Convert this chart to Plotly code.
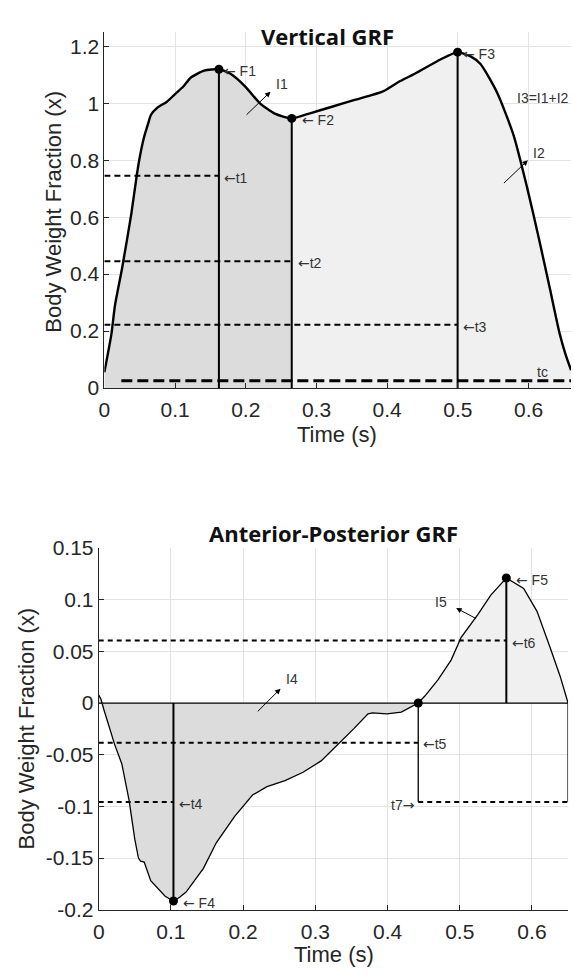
import plotly.graph_objects as go

# ---------------- Vertical GRF data ----------------
vt_time = [0.000, 0.010, 0.015, 0.025, 0.038, 0.046, 0.050, 0.056, 0.062, 0.066,
           0.075, 0.088, 0.099, 0.112, 0.122, 0.141, 0.162, 0.179, 0.200, 0.220,
           0.241, 0.265, 0.292, 0.323, 0.354, 0.393, 0.416, 0.439, 0.476, 0.4996,
           0.518, 0.532, 0.556, 0.579, 0.598, 0.615, 0.630, 0.644, 0.652, 0.660]
vt_force = [0.055, 0.19, 0.29, 0.42, 0.61, 0.75, 0.81, 0.88, 0.93, 0.96,
            0.985, 1.005, 1.03, 1.06, 1.09, 1.115, 1.12, 1.103, 1.057, 1.0,
            0.964, 0.947, 0.966, 0.989, 1.012, 1.041, 1.075, 1.104, 1.155, 1.18,
            1.165, 1.138, 1.035, 0.886, 0.703, 0.52, 0.35, 0.19, 0.12, 0.063]

vt_peak_names = ["F1", "F2", "F3"]
vt_peak_time = [0.162, 0.265, 0.4996]
vt_peak_force = [1.12, 0.947, 1.18]

vt_dash_names = ["t1", "t2", "t3"]
vt_dash_level = [0.746, 0.445, 0.222]
vt_dash_end = [0.162, 0.265, 0.4996]
vt_tc_level = 0.025
vt_tc_start = 0.024
vt_tc_end = 0.66

# ---------------- Anterior-Posterior GRF data ----------------
ap_time = [0.000, 0.003, 0.007, 0.015, 0.022, 0.032, 0.042, 0.050, 0.055, 0.058,
           0.063, 0.072, 0.082, 0.092, 0.1035, 0.112, 0.121, 0.133, 0.145, 0.163,
           0.188, 0.213, 0.233, 0.258, 0.283, 0.308, 0.333, 0.353, 0.373, 0.379,
           0.399, 0.419, 0.4425, 0.452, 0.470, 0.488, 0.502, 0.525, 0.543, 0.5645,
           0.5885, 0.607, 0.625, 0.639, 0.650]
ap_force = [0.0076, 0.004, -0.006, -0.025, -0.040, -0.059, -0.094, -0.132, -0.150, -0.153,
            -0.154, -0.172, -0.180, -0.187, -0.1916, -0.188, -0.183, -0.172, -0.160, -0.135,
            -0.110, -0.089, -0.081, -0.075, -0.067, -0.056, -0.039, -0.025, -0.0105, -0.0095,
            -0.0104, -0.0088, 0.0, 0.007, 0.0227, 0.0416, 0.0636, 0.0856, 0.1045, 0.121,
            0.1109, 0.0888, 0.054, 0.026, 0.0]

ap_points_time = [0.1035, 0.4425, 0.5645]
ap_points_force = [-0.1916, 0.0, 0.121]

ap_t4_level = -0.0958
ap_t5_level = -0.0384
ap_t6_level = 0.0605
ap_t7_level = -0.0958

# ---------------- axis ticks ----------------
vt_xticks = [0, 0.1, 0.2, 0.3, 0.4, 0.5, 0.6]
vt_xticktext = ["0", "0.1", "0.2", "0.3", "0.4", "0.5", "0.6"]
vt_yticks = [0, 0.2, 0.4, 0.6, 0.8, 1.0, 1.2]
vt_yticktext = ["0", "0.2", "0.4", "0.6", "0.8", "1", "1.2"]
ap_xticks = [0, 0.1, 0.2, 0.3, 0.4, 0.5, 0.6]
ap_xticktext = ["0", "0.1", "0.2", "0.3", "0.4", "0.5", "0.6"]
ap_yticks = [-0.2, -0.15, -0.1, -0.05, 0, 0.05, 0.1, 0.15]
ap_yticktext = ["-0.2", "-0.15", "-0.1", "-0.05", "0", "0.05", "0.1", "0.15"]

DARK_FILL = "#dcdcdc"
LIGHT_FILL = "#f0f0f0"
AXC = "#262626"
TXT = "#333333"

fig = go.Figure()

# ---- top: fills
i2 = vt_time.index(vt_peak_time[1])
fig.add_trace(go.Scatter(x=vt_time[:i2 + 1], y=vt_force[:i2 + 1], fill="tozeroy",
                         fillcolor=DARK_FILL, line=dict(width=0), mode="lines",
                         xaxis="x", yaxis="y", hoverinfo="skip", showlegend=False))
fig.add_trace(go.Scatter(x=vt_time[i2:], y=vt_force[i2:], fill="tozeroy",
                         fillcolor=LIGHT_FILL, line=dict(width=0), mode="lines",
                         xaxis="x", yaxis="y", hoverinfo="skip", showlegend=False))
for lvl, end in zip(vt_dash_level, vt_dash_end):
    fig.add_trace(go.Scatter(x=[0, end], y=[lvl, lvl], mode="lines",
                             line=dict(color="black", width=2, dash="6px,4px"),
                             xaxis="x", yaxis="y", showlegend=False))
fig.add_trace(go.Scatter(x=[vt_tc_start, vt_tc_end], y=[vt_tc_level, vt_tc_level], mode="lines",
                         line=dict(color="black", width=3, dash="11px,5px"),
                         xaxis="x", yaxis="y", showlegend=False))
for t, f in zip(vt_peak_time, vt_peak_force):
    fig.add_trace(go.Scatter(x=[t, t], y=[0, f], mode="lines",
                             line=dict(color="black", width=2),
                             xaxis="x", yaxis="y", showlegend=False))
fig.add_trace(go.Scatter(x=vt_time, y=vt_force, mode="lines",
                         line=dict(color="black", width=2.4, shape="spline", smoothing=0.6),
                         xaxis="x", yaxis="y", showlegend=False))
fig.add_trace(go.Scatter(x=vt_peak_time, y=vt_peak_force, mode="markers",
                         marker=dict(color="black", size=9),
                         xaxis="x", yaxis="y", showlegend=False))

# ---- bottom: fills
iz = ap_time.index(ap_points_time[1])
fig.add_trace(go.Scatter(x=ap_time[:iz + 1], y=ap_force[:iz + 1], fill="tozeroy",
                         fillcolor=DARK_FILL, line=dict(width=0), mode="lines",
                         xaxis="x2", yaxis="y2", hoverinfo="skip", showlegend=False))
fig.add_trace(go.Scatter(x=ap_time[iz:], y=ap_force[iz:], fill="tozeroy",
                         fillcolor=LIGHT_FILL, line=dict(width=0), mode="lines",
                         xaxis="x2", yaxis="y2", hoverinfo="skip", showlegend=False))
fig.add_trace(go.Scatter(x=[0, ap_time[-1]], y=[0, 0], mode="lines",
                         line=dict(color="black", width=1.3),
                         xaxis="x2", yaxis="y2", showlegend=False))
bdash = dict(color="black", width=2, dash="5px,4px")
fig.add_trace(go.Scatter(x=[0, ap_points_time[2]], y=[ap_t6_level] * 2, mode="lines",
                         line=bdash, xaxis="x2", yaxis="y2", showlegend=False))
fig.add_trace(go.Scatter(x=[0, ap_points_time[1]], y=[ap_t5_level] * 2, mode="lines",
                         line=bdash, xaxis="x2", yaxis="y2", showlegend=False))
fig.add_trace(go.Scatter(x=[0, ap_points_time[0]], y=[ap_t4_level] * 2, mode="lines",
                         line=bdash, xaxis="x2", yaxis="y2", showlegend=False))
fig.add_trace(go.Scatter(x=[ap_points_time[1], ap_time[-1]], y=[ap_t7_level] * 2, mode="lines",
                         line=bdash, xaxis="x2", yaxis="y2", showlegend=False))
fig.add_trace(go.Scatter(x=[ap_points_time[1], ap_points_time[1]], y=[0, ap_t7_level], mode="lines",
                         line=dict(color="black", width=1.3), xaxis="x2", yaxis="y2", showlegend=False))
fig.add_trace(go.Scatter(x=[ap_time[-1], ap_time[-1]], y=[0, ap_t7_level], mode="lines",
                         line=dict(color="black", width=1.3), xaxis="x2", yaxis="y2", showlegend=False))
for idx in (0, 2):
    fig.add_trace(go.Scatter(x=[ap_points_time[idx]] * 2, y=[0, ap_points_force[idx]], mode="lines",
                             line=dict(color="black", width=2), xaxis="x2", yaxis="y2", showlegend=False))
fig.add_trace(go.Scatter(x=ap_time, y=ap_force, mode="lines",
                         line=dict(color="black", width=1.3),
                         xaxis="x2", yaxis="y2", showlegend=False))
fig.add_trace(go.Scatter(x=ap_points_time, y=ap_points_force, mode="markers",
                         marker=dict(color="black", size=9),
                         xaxis="x2", yaxis="y2", showlegend=False))

W, H = 574, 977
def px(v):
    return v / W
def py(v):
    return 1 - v / H

axis_common = dict(showline=True, linecolor=AXC, linewidth=1, ticks="inside", ticklen=5,
                   tickcolor=AXC, tickwidth=1, showgrid=True, gridcolor="#e3e3e3", gridwidth=1,
                   zeroline=False, tickfont=dict(family="Liberation Sans", size=21, color=AXC),
                   mirror=False)

fig.update_layout(
    width=W, height=H, margin=dict(l=0, r=0, t=0, b=0),
    paper_bgcolor="white", plot_bgcolor="white", showlegend=False,
    xaxis=dict(domain=[px(99.4), px(571)], range=[0, 0.66], anchor="y",
               tickvals=vt_xticks, ticktext=vt_xticktext, ticklabelstandoff=3, **axis_common),
    yaxis=dict(domain=[py(385), py(20.7)], range=[0, 1.25], anchor="x",
               tickvals=vt_yticks, ticktext=vt_yticktext, **axis_common),
    xaxis2=dict(domain=[px(93.7), px(568)], range=[0, 0.65], anchor="y2",
                tickvals=ap_xticks, ticktext=ap_xticktext, ticklabelstandoff=3, **axis_common),
    yaxis2=dict(domain=[py(919.3), py(549)], range=[-0.2, 0.15], anchor="x2",
                tickvals=ap_yticks, ticktext=ap_yticktext, **axis_common),
)

LA = "<span style='font-family:DejaVu Sans'>←</span>"
RA = "<span style='font-family:DejaVu Sans'>→</span>"

ann = []
def label(text, x, y, xref, yref, xanchor="left", size=14):
    ann.append(dict(text=text, x=x, y=y, xref=xref, yref=yref, showarrow=False,
                    xanchor=xanchor, yanchor="middle",
                    font=dict(family="Liberation Sans", size=size, color=TXT)))
def arrow(x0, y0, x1, y1, xref, yref):
    ann.append(dict(text="", x=x1, y=y1, ax=x0, ay=y0, xref=xref, yref=yref,
                    axref=xref, ayref=yref, showarrow=True, arrowhead=2,
                    arrowsize=1.1, arrowwidth=1, arrowcolor="black"))

# top labels
label(LA + " F1", 0.167, 1.115, "x", "y")
label(LA + " F2", 0.276, 0.94, "x", "y")
label(LA + " F3", 0.505, 1.175, "x", "y")
label(LA + "t1", 0.167, 0.738, "x", "y")
label(LA + "t2", 0.271, 0.44, "x", "y")
label(LA + "t3", 0.504, 0.214, "x", "y")
label("I1", 0.251, 1.067, "x", "y", xanchor="center")
arrow(0.199, 0.955, 0.235, 1.041, "x", "y")
label("I3=I1+I2", 0.66, 1.018, "x", "y", xanchor="right")
label("I2", 0.604, 0.827, "x", "y")
arrow(0.563, 0.715, 0.599, 0.800, "x", "y")
label("tc", 0.62, 0.057, "x", "y", xanchor="center")

# bottom labels
label(LA + " F5", 0.575, 0.1187, "x2", "y2")
label(LA + "t6", 0.569, 0.058, "x2", "y2")
label("I5", 0.474, 0.098, "x2", "y2", xanchor="center")
arrow(0.5246, 0.081, 0.495, 0.092, "x2", "y2")
label("I4", 0.268, 0.0233, "x2", "y2", xanchor="center")
arrow(0.2182, -0.0095, 0.2518, 0.0139, "x2", "y2")
label(LA + "t5", 0.447, -0.0397, "x2", "y2")
label(LA + "t4", 0.108, -0.098, "x2", "y2")
label("t7" + RA, 0.441, -0.0986, "x2", "y2", xanchor="right")
label(LA + " F4", 0.114, -0.1938, "x2", "y2")

def ptext(text, x, y, size, bold=False, family="Liberation Sans", angle=0):
    ann.append(dict(text=("<b>%s</b>" % text) if bold else text, x=px(x), y=py(y),
                    xref="paper", yref="paper", showarrow=False, xanchor="center",
                    yanchor="middle", textangle=angle,
                    font=dict(family=family, size=size, color="#111111" if bold else AXC)))

ptext("Vertical GRF", 325, 25, 22, bold=True, family="Open Sans")
ptext("Anterior-Posterior GRF", 331, 534, 22, bold=True, family="Open Sans")
ptext("Body Weight Fraction (x)", 48, 204, 22, angle=-90)
ptext("Body Weight Fraction (x)", 21, 734, 22, angle=-90)
ptext("Time (s)", 335, 433, 22)
ptext("Time (s)", 331, 965, 22)

fig.update_layout(annotations=ann)
# place the figure at the page's top-left corner (no default body margin)
fig.write_html("out.html", config={"displayModeBar": False},
               post_script="document.body.style.margin='0px';document.body.style.overflow='hidden';")
